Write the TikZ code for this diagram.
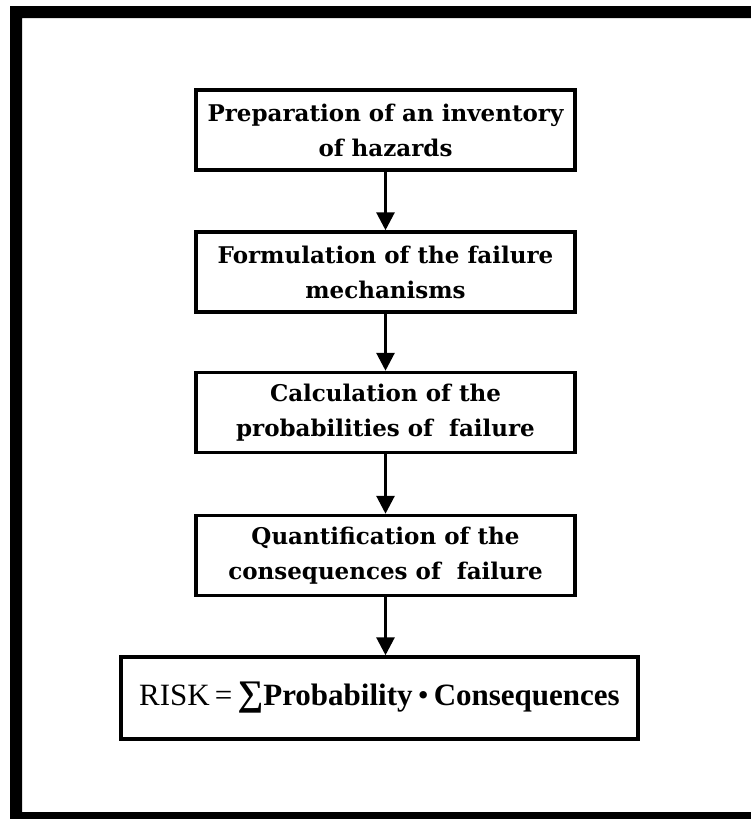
\documentclass[tikz,border=0pt]{standalone}
\usepackage{fontspec}
\setmainfont{DejaVu Serif}
\newfontfamily\riskfont{Liberation Serif}
\usetikzlibrary{arrows.meta}
\begin{document}
\begin{tikzpicture}[x=1pt,y=-1pt,
  stage/.style={draw, line width=3.5pt, minimum width=379pt, minimum height=80pt,
    inner sep=0pt, align=center, font=\fontsize{23}{35}\selectfont\bfseries},
  riskbox/.style={draw, line width=3.5pt, minimum width=517pt, minimum height=82pt,
    inner sep=0pt, font=\riskfont\fontsize{31}{36}\selectfont},
  flow/.style={line width=3pt, -{Triangle[width=18pt,length=18pt]}}
]
\useasboundingbox (0,0) rectangle (750,819);
\fill[white] (0,0) rectangle (750,819);
% heavy frame, open towards the right edge
\fill[black, even odd rule] (10,6) rectangle (800,830) (22,18) rectangle (800,812);

% process steps
\node[stage] (inv) at (385.5,130) {Preparation of an inventory\\of hazards};
\node[stage] (mech) at (385.5,272) {Formulation of the failure\\mechanisms};
\node[stage] (prob) at (385.5,412.5) {Calculation of the\\probabilities of\ \ failure};
\node[stage] (cons) at (385.5,555.5) {Quantification of the\\consequences of\ \ failure};
\node[riskbox] (risk) at (379.5,698)
  {RISK\,=\,{\bfseries\fontsize{36}{36}\selectfont ∑}\textbf{Probability}\,•\,\textbf{Consequences}};

% connectors
\draw[flow] (inv.south) -- (mech.north);
\draw[flow] (mech.south) -- (prob.north);
\draw[flow] (prob.south) -- (cons.north);
\draw[flow] (cons.south) -- (cons.south |- risk.north);
\end{tikzpicture}
\end{document}
